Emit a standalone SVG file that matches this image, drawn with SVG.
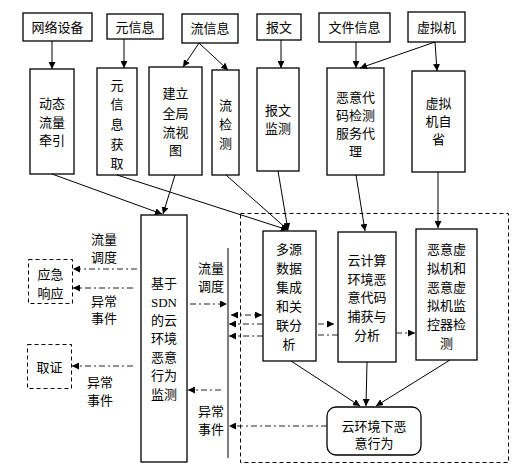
<svg xmlns="http://www.w3.org/2000/svg" width="525" height="471" viewBox="0 0 525 471">
<defs>
<marker id="ah" viewBox="0 0 10 10" refX="10" refY="5" markerWidth="7" markerHeight="7" markerUnits="userSpaceOnUse" orient="auto-start-reverse">
<path d="M0,0 L10,5 L0,10 z" fill="#000"/>
</marker>
<style>
.b{fill:#fff;stroke:#000;stroke-width:1.3}
.d{fill:#fff;stroke:#000;stroke-width:1;stroke-dasharray:4,3}
.t{font-family:"Liberation Sans","Noto Sans CJK SC",sans-serif;font-size:13px;fill:#000;text-anchor:middle;dominant-baseline:central}
.s{stroke:#000;stroke-width:1;fill:none}
.a{stroke:#000;stroke-width:1;fill:none;marker-end:url(#ah)}
.dd{stroke:#222;stroke-width:1;fill:none;stroke-dasharray:6,3,2,3;marker-end:url(#ah)}
.dn{stroke:#222;stroke-width:1;fill:none;stroke-dasharray:6,3,2,3}
</style>
</defs>
<rect id="container" x="240.5" y="213.5" width="268" height="249" fill="none" stroke="#000" stroke-width="1" stroke-dasharray="4,3"/>
<g id="n-wangluo"><rect class="b" x="23" y="13" width="69" height="28"/><text class="t" x="57.5" y="27">网络设备</text></g>
<g id="n-yuanxinxi"><rect class="b" x="107" y="14" width="56" height="25"/><text class="t" x="135" y="27">元信息</text></g>
<g id="n-liuxinxi"><rect class="b" x="182" y="14" width="56" height="29"/><text class="t" x="210" y="28">流信息</text></g>
<g id="n-baowen"><rect class="b" x="257" y="14" width="44" height="26"/><text class="t" x="279" y="27">报文</text></g>
<g id="n-wenjian"><rect class="b" x="319" y="13" width="71" height="29"/><text class="t" x="354.5" y="27">文件信息</text></g>
<g id="n-xuniji"><rect class="b" x="408" y="12" width="57" height="30"/><text class="t" x="436.5" y="27">虚拟机</text></g>

<g id="n-dongtai"><rect class="b" x="30" y="69" width="44" height="105"/><text class="t" x="52" y="103">动态</text><text class="t" x="52" y="122">流量</text><text class="t" x="52" y="140">牵引</text></g>
<g id="n-yxxhq"><rect class="b" x="97" y="68" width="40" height="107"/><text class="t" x="117" y="85">元</text><text class="t" x="117" y="104">信</text><text class="t" x="117" y="124">息</text><text class="t" x="117" y="144">获</text><text class="t" x="117" y="163">取</text></g>
<g id="n-jianli"><rect class="b" x="149" y="67" width="53" height="108"/><text class="t" x="175.5" y="93">建立</text><text class="t" x="175.5" y="113">全局</text><text class="t" x="175.5" y="132">流视</text><text class="t" x="175.5" y="150">图</text></g>
<g id="n-liujiance"><rect class="b" x="212" y="70" width="27" height="105"/><text class="t" x="225.5" y="105">流</text><text class="t" x="225.5" y="124">检</text><text class="t" x="225.5" y="143">测</text></g>
<g id="n-baowenjc"><rect class="b" x="257" y="68" width="42" height="103"/><text class="t" x="278" y="110">报文</text><text class="t" x="278" y="128">监测</text></g>
<g id="n-eyidaima"><rect class="b" x="327" y="68" width="57" height="107"/><text class="t" x="355.5" y="97">恶意代</text><text class="t" x="355.5" y="115">码检测</text><text class="t" x="355.5" y="133">服务代</text><text class="t" x="355.5" y="151">理</text></g>
<g id="n-zixing"><rect class="b" x="412" y="71" width="53" height="101"/><text class="t" x="438.5" y="103">虚拟</text><text class="t" x="438.5" y="121">机自</text><text class="t" x="438.5" y="139">省</text></g>

<g id="n-sdn"><rect class="b" x="141" y="215" width="46" height="247"/><text class="t" x="164" y="283">基于</text><text class="t" x="164" y="302" style="font-family:'Liberation Serif',serif">SDN</text><text class="t" x="164" y="320">的云</text><text class="t" x="164" y="338">环境</text><text class="t" x="164" y="357">恶意</text><text class="t" x="164" y="375">行为</text><text class="t" x="164" y="394">监测</text></g>
<g id="n-yingji"><rect class="d" x="28.5" y="259.5" width="44" height="44"/><text class="t" x="50.5" y="274">应急</text><text class="t" x="50.5" y="293">响应</text></g>
<g id="n-quzheng"><rect class="d" x="27.5" y="344.5" width="44" height="44"/><text class="t" x="49.5" y="367">取证</text></g>

<g id="n-duoyuan"><rect class="b" x="263" y="231" width="53" height="130"/><text class="t" x="289" y="249">多源</text><text class="t" x="289" y="268">数据</text><text class="t" x="289" y="287">集成</text><text class="t" x="289" y="306">和关</text><text class="t" x="289" y="325">联分</text><text class="t" x="289" y="344">析</text></g>
<g id="n-yunjisuan"><rect class="b" x="338" y="232" width="58" height="130"/><text class="t" x="367" y="260">云计算</text><text class="t" x="367" y="279">环境恶</text><text class="t" x="367" y="297">意代码</text><text class="t" x="367" y="316">捕获与</text><text class="t" x="367" y="335">分析</text></g>
<g id="n-eyixuni"><rect class="b" x="416" y="229" width="61" height="131"/><text class="t" x="446.5" y="249">恶意虚</text><text class="t" x="446.5" y="268">拟机和</text><text class="t" x="446.5" y="287">恶意虚</text><text class="t" x="446.5" y="305">拟机监</text><text class="t" x="446.5" y="324">控器检</text><text class="t" x="446.5" y="343">测</text></g>
<g id="n-yunhuanjing"><rect class="b" x="327" y="407" width="94" height="48" rx="9" ry="9"/><text class="t" x="374" y="426">云环境下恶</text><text class="t" x="374" y="443">意行为</text></g>

<g id="labels">
<text class="t" x="104" y="239">流量</text><text class="t" x="104" y="257">调度</text>
<text class="t" x="104" y="301">异常</text><text class="t" x="104" y="318">事件</text>
<text class="t" x="100" y="382">异常</text><text class="t" x="100" y="400">事件</text>
<text class="t" x="211" y="268">流量</text><text class="t" x="211" y="286">调度</text>
<text class="t" x="211" y="411">异常</text><text class="t" x="211" y="429">事件</text>
</g>

<g id="connectors">
<line class="a" x1="52" y1="41" x2="52" y2="69"/>
<line class="a" x1="124" y1="39" x2="124" y2="68"/>
<line class="a" x1="199" y1="43" x2="183" y2="67"/>
<line class="a" x1="199" y1="43" x2="228" y2="70"/>
<line class="a" x1="281" y1="40" x2="281" y2="68"/>
<line class="a" x1="356" y1="42" x2="356" y2="68"/>
<line class="a" x1="435" y1="42" x2="360" y2="68"/>
<line class="a" x1="435" y1="42" x2="437" y2="71"/>

<line class="a" x1="52" y1="174" x2="162" y2="214"/>
<line class="a" x1="175" y1="175" x2="163" y2="214"/>
<line class="a" x1="117" y1="175" x2="288" y2="230"/>
<line class="a" x1="226" y1="175" x2="288" y2="230"/>
<line class="a" x1="278" y1="171" x2="288" y2="230"/>
<line class="a" x1="356" y1="175" x2="365" y2="231"/>
<line class="a" x1="438" y1="172" x2="438" y2="228"/>

<line class="a" x1="291" y1="361" x2="360" y2="406"/>
<line class="a" x1="367" y1="362" x2="366" y2="406"/>
<line class="a" x1="450" y1="360" x2="376" y2="406"/>

<line class="s" x1="228" y1="248" x2="228" y2="458" stroke-width="1.3"/>

<line class="dd" x1="137" y1="269" x2="73" y2="269"/>
<line class="dd" x1="133" y1="288" x2="73" y2="288"/>
<line class="dd" x1="133" y1="366" x2="72" y2="366"/>
<line class="dd" x1="190" y1="304" x2="227" y2="304"/>
<line class="dd" x1="221" y1="390" x2="188" y2="390"/>
<line class="dd" x1="327" y1="426" x2="229" y2="426"/>
<line class="dd" x1="231" y1="315" x2="262" y2="315" marker-start="url(#ah)"/>
<line class="dd" x1="263" y1="324" x2="229" y2="324"/>
<line class="dd" x1="263" y1="336" x2="229" y2="336"/>
<line class="dn" x1="318" y1="335" x2="338" y2="335"/>
<line class="dd" x1="318" y1="324" x2="334" y2="324"/>
<line class="dd" x1="396" y1="333" x2="415" y2="333"/>
</g>
</svg>
